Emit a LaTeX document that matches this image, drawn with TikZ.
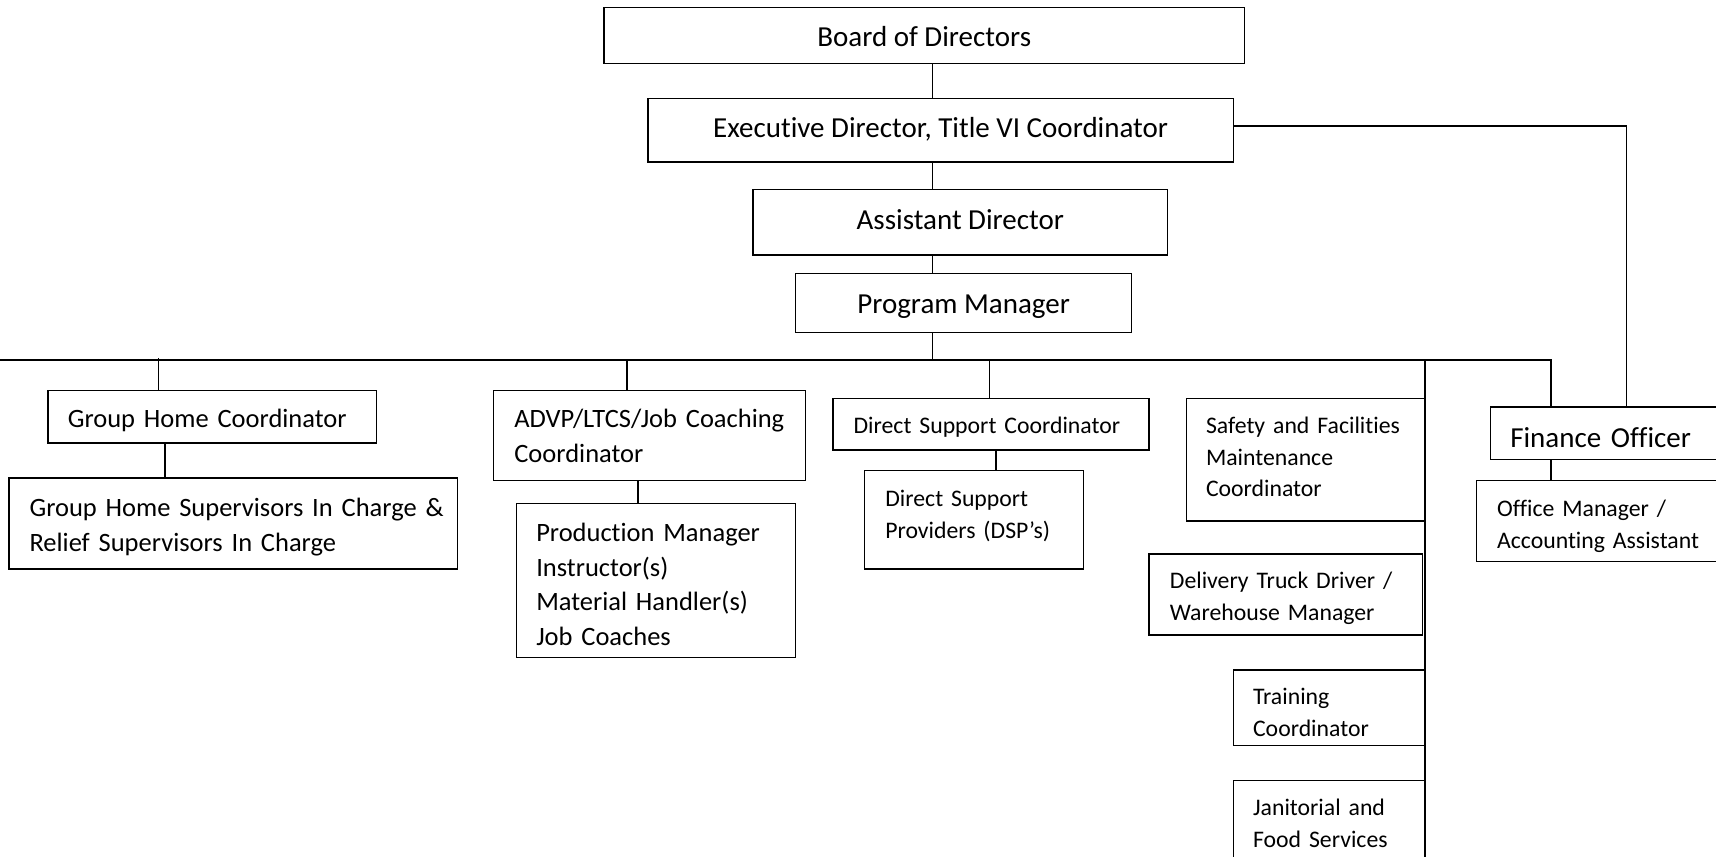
\documentclass[tikz,border=0pt]{standalone}
\usepackage{fontspec}
\setmainfont{Carlito}[Ligatures={CommonOff,ContextualOff}]
\begin{document}
\begin{tikzpicture}[x=1pt,y=-1pt]
\tikzset{
 box/.style={draw, line width=1.4pt, rectangle, inner sep=0pt, outer sep=0pt},
 big/.style={font=\fontsize{26.5}{31}\selectfont},
 mid/.style={font=\fontsize{24.2}{31.5}\selectfont},
 sml/.style={font=\fontsize{21.7}{29}\selectfont},
 wire/.style={line width=1.4pt},
 lft/.style={align=left, text width=#1},
 up/.style={text height=#1, text depth=0pt},
 dn/.style={text height=0pt, text depth=#1}
}
\useasboundingbox (0,0) rectangle (1568,783);
% top chain
\node[box,big,up=20.6pt,minimum width=585pt,minimum height=51pt] (board) at (844.5,32.5) {Board of Directors};
\node[box,big,up=13.6pt,minimum width=535pt,minimum height=58pt] (exec) at (859.5,119) {Executive Director, Title VI Coordinator};
\node[box,big,up=13.6pt,minimum width=379pt,minimum height=60pt] (asst) at (877.5,203) {Assistant Director};
\node[box,big,up=19.6pt,minimum width=307pt,minimum height=54pt] (pm) at (880.5,277) {Program Manager};
% left branches
\node[box,mid,up=20pt,minimum width=300pt,minimum height=48pt,lft=264pt] (ghc) at (194,381) {\mbox{Group Home Coordinator}};
\node[box,mid,dn=13pt,minimum width=410pt,minimum height=83pt,lft=372pt] (ghs) at (213,478.5) {\mbox{Group Home Supervisors In Charge \&}\\\mbox{Relief Supervisors In Charge}};
\node[box,mid,dn=14pt,minimum width=285pt,minimum height=82pt,lft=247pt] (advp) at (593.5,398) {\mbox{ADVP/LTCS/Job Coaching}\\Coordinator};
\node[box,mid,dn=71pt,minimum width=255pt,minimum height=141pt,lft=219pt] (prod) at (599.5,530.5) {\mbox{Production Manager}\\Instructor(s)\\\mbox{Material Handler(s)}\\Job Coaches};
\node[box,sml,up=17pt,minimum width=289pt,minimum height=47pt,lft=251pt] (dsc) at (905.5,387.5) {\mbox{Direct Support Coordinator}};
\node[box,sml,dn=24pt,minimum width=200pt,minimum height=90pt,lft=162pt] (dsp) at (890,475) {\mbox{Direct Support}\\\mbox{Providers (DSP’s)}};
% right column
\node[box,sml,dn=48pt,minimum width=218pt,minimum height=112pt,lft=182pt] (safety) at (1193,420) {\mbox{Safety and Facilities}\\Maintenance\\Coordinator};
\node[box,sml,dn=10pt,minimum width=250pt,minimum height=74pt,lft=212pt] (deliv) at (1175,543) {\mbox{Delivery Truck Driver /}\\\mbox{Warehouse Manager}};
\node[box,sml,dn=5pt,minimum width=175pt,minimum height=69pt,lft=139pt] (train) at (1214.5,646.5) {Training\\Coordinator};
\node[box,sml,dn=13pt,minimum width=175pt,minimum height=77pt,lft=139pt] (jan) at (1214.5,751.5) {\mbox{Janitorial and}\\\mbox{Food Services}};
% finance
\node[box,big,up=25.6pt,minimum width=210pt,minimum height=48pt,lft=174pt] (fin) at (1467,396) {\mbox{Finance Officer}};
\node[box,sml,dn=8pt,minimum width=223pt,minimum height=74pt,lft=185pt] (office) at (1460.5,476) {\mbox{Office Manager /}\\\mbox{Accounting Assistant}};
% coordinates
\coordinate (spine) at (852,329);
\coordinate (busL) at (0,329);
\coordinate (busR) at (1417,329);
\coordinate (col) at (1302,329);
\coordinate (colEnd) at (1302,790);
\coordinate (execR) at (1127,115);
\coordinate (finUp) at (1486,115);
% connectors
\draw[wire] (board.south -| spine) -- (exec.north -| spine);
\draw[wire] (exec.south -| spine) -- (asst.north -| spine);
\draw[wire] (asst.south -| spine) -- (pm.north -| spine);
\draw[wire] (pm.south -| spine) -- (spine);
\draw[wire] (busL) -- (busR) -- (fin.north -| busR);
\draw[wire] (145,327) -- (ghc.north -| 145,0);
\draw[wire] (ghc.south -| 151,0) -- (ghs.north -| 151,0);
\draw[wire] (573,329) -- (advp.north -| 573,0);
\draw[wire] (advp.south -| 583,0) -- (prod.north -| 583,0);
\draw[wire] (904,329) -- (dsc.north -| 904,0);
\draw[wire] (dsc.south -| 910,0) -- (dsp.north -| 910,0);
\draw[wire] (col) -- (colEnd);
\draw[wire] (fin.south -| busR) -- (office.north -| busR);
\draw[wire] (exec.east |- execR) -- (finUp) -- (fin.north -| finUp);
\end{tikzpicture}
\end{document}
